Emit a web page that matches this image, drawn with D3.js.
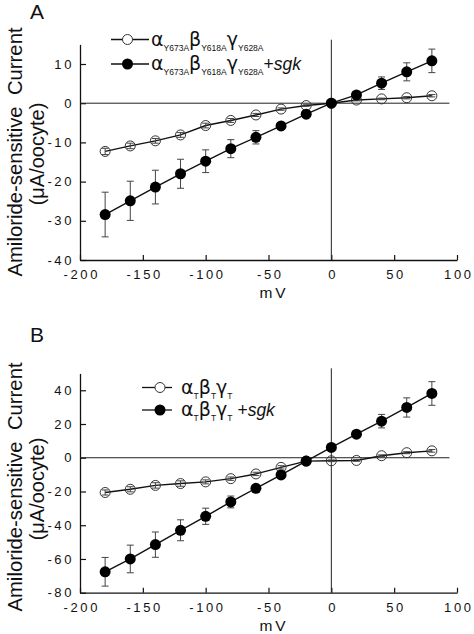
<!DOCTYPE html>
<html>
<head>
<meta charset="utf-8">
<script src="https://cdn.jsdelivr.net/npm/d3@7"></script>
<style>
  html, body { margin: 0; padding: 0; background: #fff; }
  svg { display: block; font-family: "Liberation Sans", Arial, Helvetica, sans-serif; }
</style>
</head>
<body>
<svg id="chart" width="474" height="634"></svg>
<script>
// ---- data ----
const voltage = [-180, -160, -140, -120, -100, -80, -60, -40, -20, 0, 20, 40, 60, 80];

// Panel A: alpha Y673A, beta Y618A, gamma Y628A
const aControl    = [-12.3, -10.9, -9.6, -8.1, -5.7, -4.4, -3.0, -1.5, -0.6, 0.0, 0.8, 1.1, 1.4, 1.9];
const aControlErr = [0.8, 0.7, 0.6, 0.6, 0.6, 0.5, 0.4, 0.3, 0.2, 0.1, 0.2, 0.2, 0.3, 0.3];
const aSgk        = [-28.4, -24.9, -21.4, -18.0, -14.8, -11.6, -8.7, -5.8, -2.8, 0.0, 2.1, 5.1, 8.0, 10.8];
const aSgkErr     = [5.7, 5.0, 4.3, 3.7, 2.9, 2.3, 1.7, 0.8, 0.5, 0.2, 0.6, 1.6, 2.3, 3.0];

// Panel B: alpha T, beta T, gamma T
const bControl    = [-20.6, -18.7, -16.4, -15.3, -14.3, -12.4, -9.6, -5.7, -2.0, -1.8, -1.6, 1.2, 3.0, 4.1];
const bControlErr = [1.5, 1.5, 1.6, 1.6, 1.2, 1.0, 1.0, 1.0, 0.5, 0.5, 0.5, 0.5, 0.6, 0.8];
const bSgk        = [-67.6, -60.0, -51.5, -43.0, -34.7, -26.2, -18.1, -10.2, -2.0, 6.1, 14.0, 21.7, 29.8, 38.1];
const bSgkErr     = [8.5, 8.2, 7.5, 6.2, 4.8, 3.5, 1.5, 2.0, 0.8, 0.8, 1.5, 4.0, 5.7, 7.0];

const xTicks  = [-200, -150, -100, -50, 0, 50, 100];
const aYTicks = [-40, -30, -20, -10, 0, 10];
const bYTicks = [-80, -60, -40, -20, 0, 20, 40];

const aLegend = [
  { parts: [["α", "Y673A"], ["β", "Y618A"], ["γ", "Y628A"]], suffix: "" },
  { parts: [["α", "Y673A"], ["β", "Y618A"], ["γ", "Y628A"]], suffix: "+" }
];
const bLegend = [
  { parts: [["α", "T"], ["β", "T"], ["γ", "T"]], suffix: "" },
  { parts: [["α", "T"], ["β", "T"], ["γ", "T"]], suffix: " +" }
];

const yLabel1 = "Amiloride-sensitive  Current";
const yLabel2 = "(μA/oocyte)";
const xLabel = "mV";

// ---- drawing ----
const svg = d3.select("#chart");
svg.append("rect").attr("width", 474).attr("height", 634).attr("fill", "#fff");

const fmt = d => String(d);  // plain hyphen minus, as in the reference

function drawPanel(cfg) {
  const x = d3.scaleLinear().domain([-200, 100]).range([80, 457]);
  const y = d3.scaleLinear().domain(cfg.yDomain).range(cfg.yRange);
  const g = svg.append("g");

  // panel letter
  g.append("text").attr("x", 30).attr("y", cfg.letterY)
    .attr("font-size", 21).attr("fill", "#111").text(cfg.letter);

  // y axis
  const yAxis = d3.axisLeft(y).tickValues(cfg.yTicks).tickSizeInner(-6).tickSizeOuter(0).tickPadding(6)
    .tickFormat(fmt);
  const ya = g.append("g").attr("transform", `translate(${x(-200)},0)`).call(yAxis);
  ya.select(".domain").attr("stroke", "#111").attr("stroke-width", 1.3);
  ya.selectAll(".tick line").attr("stroke", "#111").attr("stroke-width", 1.2);
  ya.selectAll(".tick text").attr("font-size", 13).attr("letter-spacing", "2.6px")
    .attr("fill", "#111").attr("font-family", "Liberation Sans, Arial, sans-serif");

  // x axis
  const xAxis = d3.axisBottom(x).tickValues(xTicks).tickSizeInner(-5).tickSizeOuter(0).tickPadding(10)
    .tickFormat(fmt);
  const xa = g.append("g").attr("transform", `translate(0,${y(cfg.yDomain[0])})`).call(xAxis);
  xa.select(".domain").attr("stroke", "#111").attr("stroke-width", 1.3);
  xa.selectAll(".tick line").attr("stroke", "#111").attr("stroke-width", 1.2);
  xa.selectAll(".tick text").attr("font-size", 13).attr("letter-spacing", "2.6px")
    .attr("fill", "#111").attr("font-family", "Liberation Sans, Arial, sans-serif")
    .attr("dx", "1.3px");

  // zero lines
  g.append("line").attr("x1", x(-200)).attr("x2", x(cfg.zeroHEnd))
    .attr("y1", y(0)).attr("y2", y(0)).attr("stroke", "#222").attr("stroke-width", 1);
  g.append("line").attr("x1", x(0)).attr("x2", x(0))
    .attr("y1", y(cfg.zeroVTop)).attr("y2", y(cfg.yDomain[0])).attr("stroke", "#222").attr("stroke-width", 1);

  // axis labels
  g.append("text").attr("transform", `translate(21.5,${cfg.labelCenter}) rotate(-90)`)
    .attr("text-anchor", "middle").attr("font-size", 20.3).attr("fill", "#111")
    .style("white-space", "pre").text(yLabel1);
  g.append("text").attr("transform", `translate(44,${cfg.labelCenter + 2}) rotate(-90)`)
    .attr("text-anchor", "middle").attr("font-size", 20).attr("fill", "#111").text(yLabel2);
  g.append("text").attr("x", 274).attr("y", y(cfg.yDomain[0]) + 38)
    .attr("text-anchor", "middle").attr("font-size", 15.5).attr("letter-spacing", "3px")
    .attr("fill", "#111").text(xLabel);

  const series = [
    { vals: cfg.control, err: cfg.controlErr, filled: false },
    { vals: cfg.sgk, err: cfg.sgkErr, filled: true }
  ];
  const line = d3.line().x(d => x(d.v)).y(d => y(d.c));

  series.forEach(s => {
    const pts = voltage.map((v, i) => ({ v, c: s.vals[i], e: s.err[i] }));
    g.append("path").datum(pts).attr("d", line).attr("fill", "none")
      .attr("stroke", "#111").attr("stroke-width", 1.4);
    const eb = g.append("g").attr("stroke", "#444").attr("stroke-width", 1);
    eb.selectAll("line.v").data(pts).join("line").attr("class", "v")
      .attr("x1", d => x(d.v)).attr("x2", d => x(d.v))
      .attr("y1", d => y(d.c - d.e)).attr("y2", d => y(d.c + d.e));
    eb.selectAll("line.t").data(pts).join("line").attr("class", "t")
      .attr("x1", d => x(d.v) - 3.5).attr("x2", d => x(d.v) + 3.5)
      .attr("y1", d => y(d.c + d.e)).attr("y2", d => y(d.c + d.e));
    eb.selectAll("line.b").data(pts).join("line").attr("class", "b")
      .attr("x1", d => x(d.v) - 3.5).attr("x2", d => x(d.v) + 3.5)
      .attr("y1", d => y(d.c - d.e)).attr("y2", d => y(d.c - d.e));
    if (s.filled) {
      g.selectAll(null).data(pts).join("circle")
        .attr("cx", d => x(d.v)).attr("cy", d => y(d.c)).attr("r", 5.5).attr("fill", "#000");
    } else {
      g.selectAll(null).data(pts).join("circle")
        .attr("cx", d => x(d.v)).attr("cy", d => y(d.c)).attr("r", 5)
        .attr("fill", "none").attr("stroke", "#333").attr("stroke-width", 1);
    }
  });

  // legend
  cfg.legend.forEach((item, i) => {
    const ly = cfg.legendY[i];
    g.append("line").attr("x1", cfg.legendLine[0]).attr("x2", cfg.legendLine[1])
      .attr("y1", ly).attr("y2", ly).attr("stroke", "#111").attr("stroke-width", 1.3);
    const c = g.append("circle").attr("cx", cfg.legendCircle).attr("cy", ly).attr("r", i === 0 ? 5 : 5.5);
    if (i === 0) c.attr("fill", "#fff").attr("stroke", "#333").attr("stroke-width", 1);
    else c.attr("fill", "#000");
    const t = g.append("text").attr("x", cfg.legendText).attr("y", ly + 6).attr("fill", "#111");
    item.parts.forEach(([gr, sub], k) => {
      t.append("tspan").attr("font-size", 19).attr("font-family", "DejaVu Sans, sans-serif")
        .attr("dy", k === 0 ? 0 : -5).text(gr);
      t.append("tspan").attr("font-size", 8.5).attr("dy", 5).text(sub);
    });
    if (item.suffix) {
      t.append("tspan").attr("font-size", 17.5).attr("dy", -5).style("white-space", "pre").text(item.suffix);
      t.append("tspan").attr("font-size", 17.5).attr("font-style", "italic").text("sgk");
    }
  });
}

drawPanel({
  letter: "A", letterY: 19,
  yDomain: [-40, 15], yRange: [260, 44.4], yTicks: aYTicks,
  zeroHEnd: 94, zeroVTop: 16.2,
  labelCenter: 152,
  control: aControl, controlErr: aControlErr, sgk: aSgk, sgkErr: aSgkErr,
  legend: aLegend, legendY: [39.5, 64], legendLine: [111, 149], legendCircle: 127.5, legendText: 151
});

drawPanel({
  letter: "B", letterY: 342,
  yDomain: [-80, 50], yRange: [592.7, 373.4], yTicks: bYTicks,
  zeroHEnd: 94, zeroVTop: 53,
  labelCenter: 487,
  control: bControl, controlErr: bControlErr, sgk: bSgk, sgkErr: bSgkErr,
  legend: bLegend, legendY: [387.5, 410], legendLine: [142, 172], legendCircle: 160, legendText: 181
});
</script>
</body>
</html>
